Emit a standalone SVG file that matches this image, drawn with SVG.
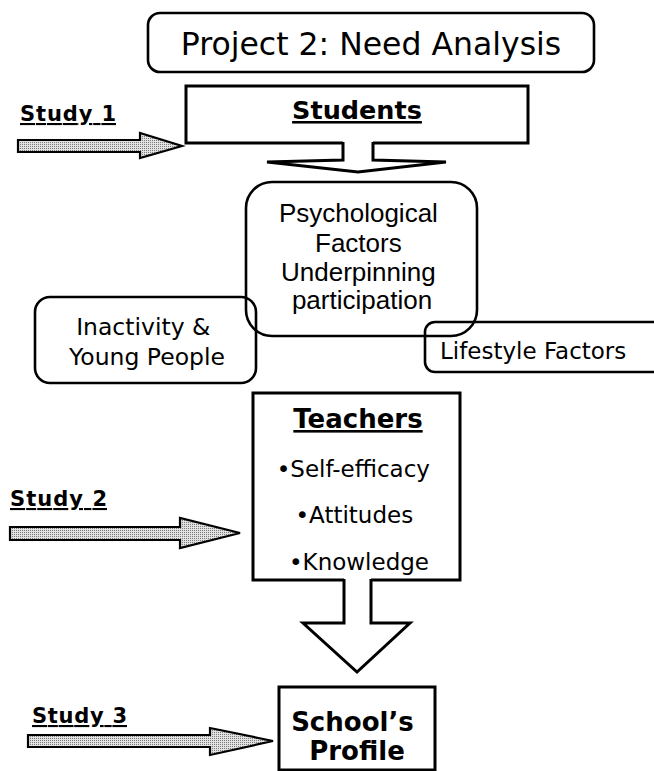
<svg xmlns="http://www.w3.org/2000/svg" width="654" height="771" viewBox="0 0 654 771">
  <defs>
    <!-- stippled grey fill used by the study arrows -->
    <pattern id="stipple" width="2" height="2" patternUnits="userSpaceOnUse">
      <rect width="2" height="2" fill="#e2e2e2"/>
      <rect width="1" height="1" fill="#7a7a7a"/>
    </pattern>
  </defs>
  <style>
    .box { fill: none; stroke: #000; stroke-width: 2.6; stroke-linejoin: round; }
    .sq { fill: none; stroke: #000; stroke-width: 3; stroke-linejoin: miter; }
    .tah { font-family: "DejaVu Sans", "Liberation Sans", sans-serif; fill: #000; }
    .ari { font-family: "Liberation Sans", Arial, sans-serif; fill: #000; }
    .bold { font-weight: bold; }
    .ul { text-decoration: underline; }
    .study { font-family: "DejaVu Sans", "Liberation Sans", sans-serif; font-weight: bold; font-size: 21px; text-decoration: underline; fill: #000; }
    .arrow { fill: url(#stipple); stroke: #000; stroke-width: 2.2; stroke-linejoin: miter; }
    .block { fill: #fff; stroke: #000; stroke-width: 3; stroke-linejoin: miter; }
  </style>

  <!-- title -->
  <g id="title">
    <rect class="box" x="148" y="13" width="446" height="59" rx="12"/>
    <text class="tah" x="371" y="55" font-size="31.5" text-anchor="middle">Project 2: Need Analysis</text>
  </g>

  <!-- study labels -->
  <g id="study1">
    <text class="study" x="20" y="121" textLength="96" lengthAdjust="spacing">Study 1</text>
  </g>
  <g id="study2">
    <text class="study" x="10" y="506" textLength="97" lengthAdjust="spacing">Study 2</text>
  </g>
  <g id="study3">
    <text class="study" x="32" y="723" textLength="95" lengthAdjust="spacing">Study 3</text>
  </g>

  <!-- students -->
  <g id="students">
    <path class="sq" d="M343,143 H186 V86 H528 V143 H373"/>
    <text class="tah bold ul" x="357" y="119" font-size="25.5" text-anchor="middle">Students</text>
  </g>

  <!-- psychological factors -->
  <g id="psych">
    <rect class="box" x="246" y="182" width="231" height="154" rx="26"/>
    <text class="ari" font-size="26" text-anchor="middle">
      <tspan x="362" y="222">Psychological</tspan>
      <tspan x="362" y="252">Factors</tspan>
      <tspan x="362" y="281">Underpinning</tspan>
      <tspan x="362" y="309">participation</tspan>
    </text>
  </g>

  <!-- inactivity -->
  <g id="inactivity">
    <rect class="box" x="35" y="297" width="221" height="86" rx="15"/>
    <text class="tah" font-size="23.5" text-anchor="middle">
      <tspan x="147" y="335">Inactivity &amp;</tspan>
      <tspan x="147" y="365">Young People</tspan>
    </text>
  </g>

  <!-- lifestyle -->
  <g id="lifestyle">
    <rect class="box" x="425" y="322" width="250" height="50" rx="10"/>
    <text class="tah" x="440" y="359" font-size="23">Lifestyle Factors</text>
  </g>

  <!-- teachers -->
  <g id="teachers">
    <path class="sq" d="M344,580 H253 V393 H460 V580 H371"/>
    <text class="tah bold ul" x="358" y="428" font-size="26" text-anchor="middle">Teachers</text>
    <text class="tah" font-size="23" text-anchor="middle">
      <tspan x="357" y="477">•Self-efficacy</tspan>
      <tspan x="358" y="523">•Attitudes</tspan>
      <tspan x="359" y="570">•Knowledge</tspan>
    </text>
  </g>

  <!-- school profile -->
  <g id="school">
    <rect class="sq" x="279" y="687" width="156" height="83"/>
    <text class="tah bold" font-size="26" text-anchor="middle">
      <tspan x="357" y="731">School’s</tspan>
      <tspan x="357" y="760">Profile</tspan>
    </text>
  </g>

  <!-- connectors -->
  <g id="connectors">
    <path class="block" d="M343,142 V160 L267,162 L358,172 L446,162 L373,160 V142"/>
    <path class="block" d="M344,579 V623 H303 L357,672 L410,623 H371 V579"/>
    <path class="arrow" d="M18,140 H140 V133 L182,146 L140,158 V152 H18 Z"/>
    <path class="arrow" d="M10,527 H180 V518 L240,533 L180,548 V540 H10 Z"/>
    <path class="arrow" d="M28,735 H210 V728 L273,741 L210,755 V747 H28 Z"/>
  </g>
</svg>
